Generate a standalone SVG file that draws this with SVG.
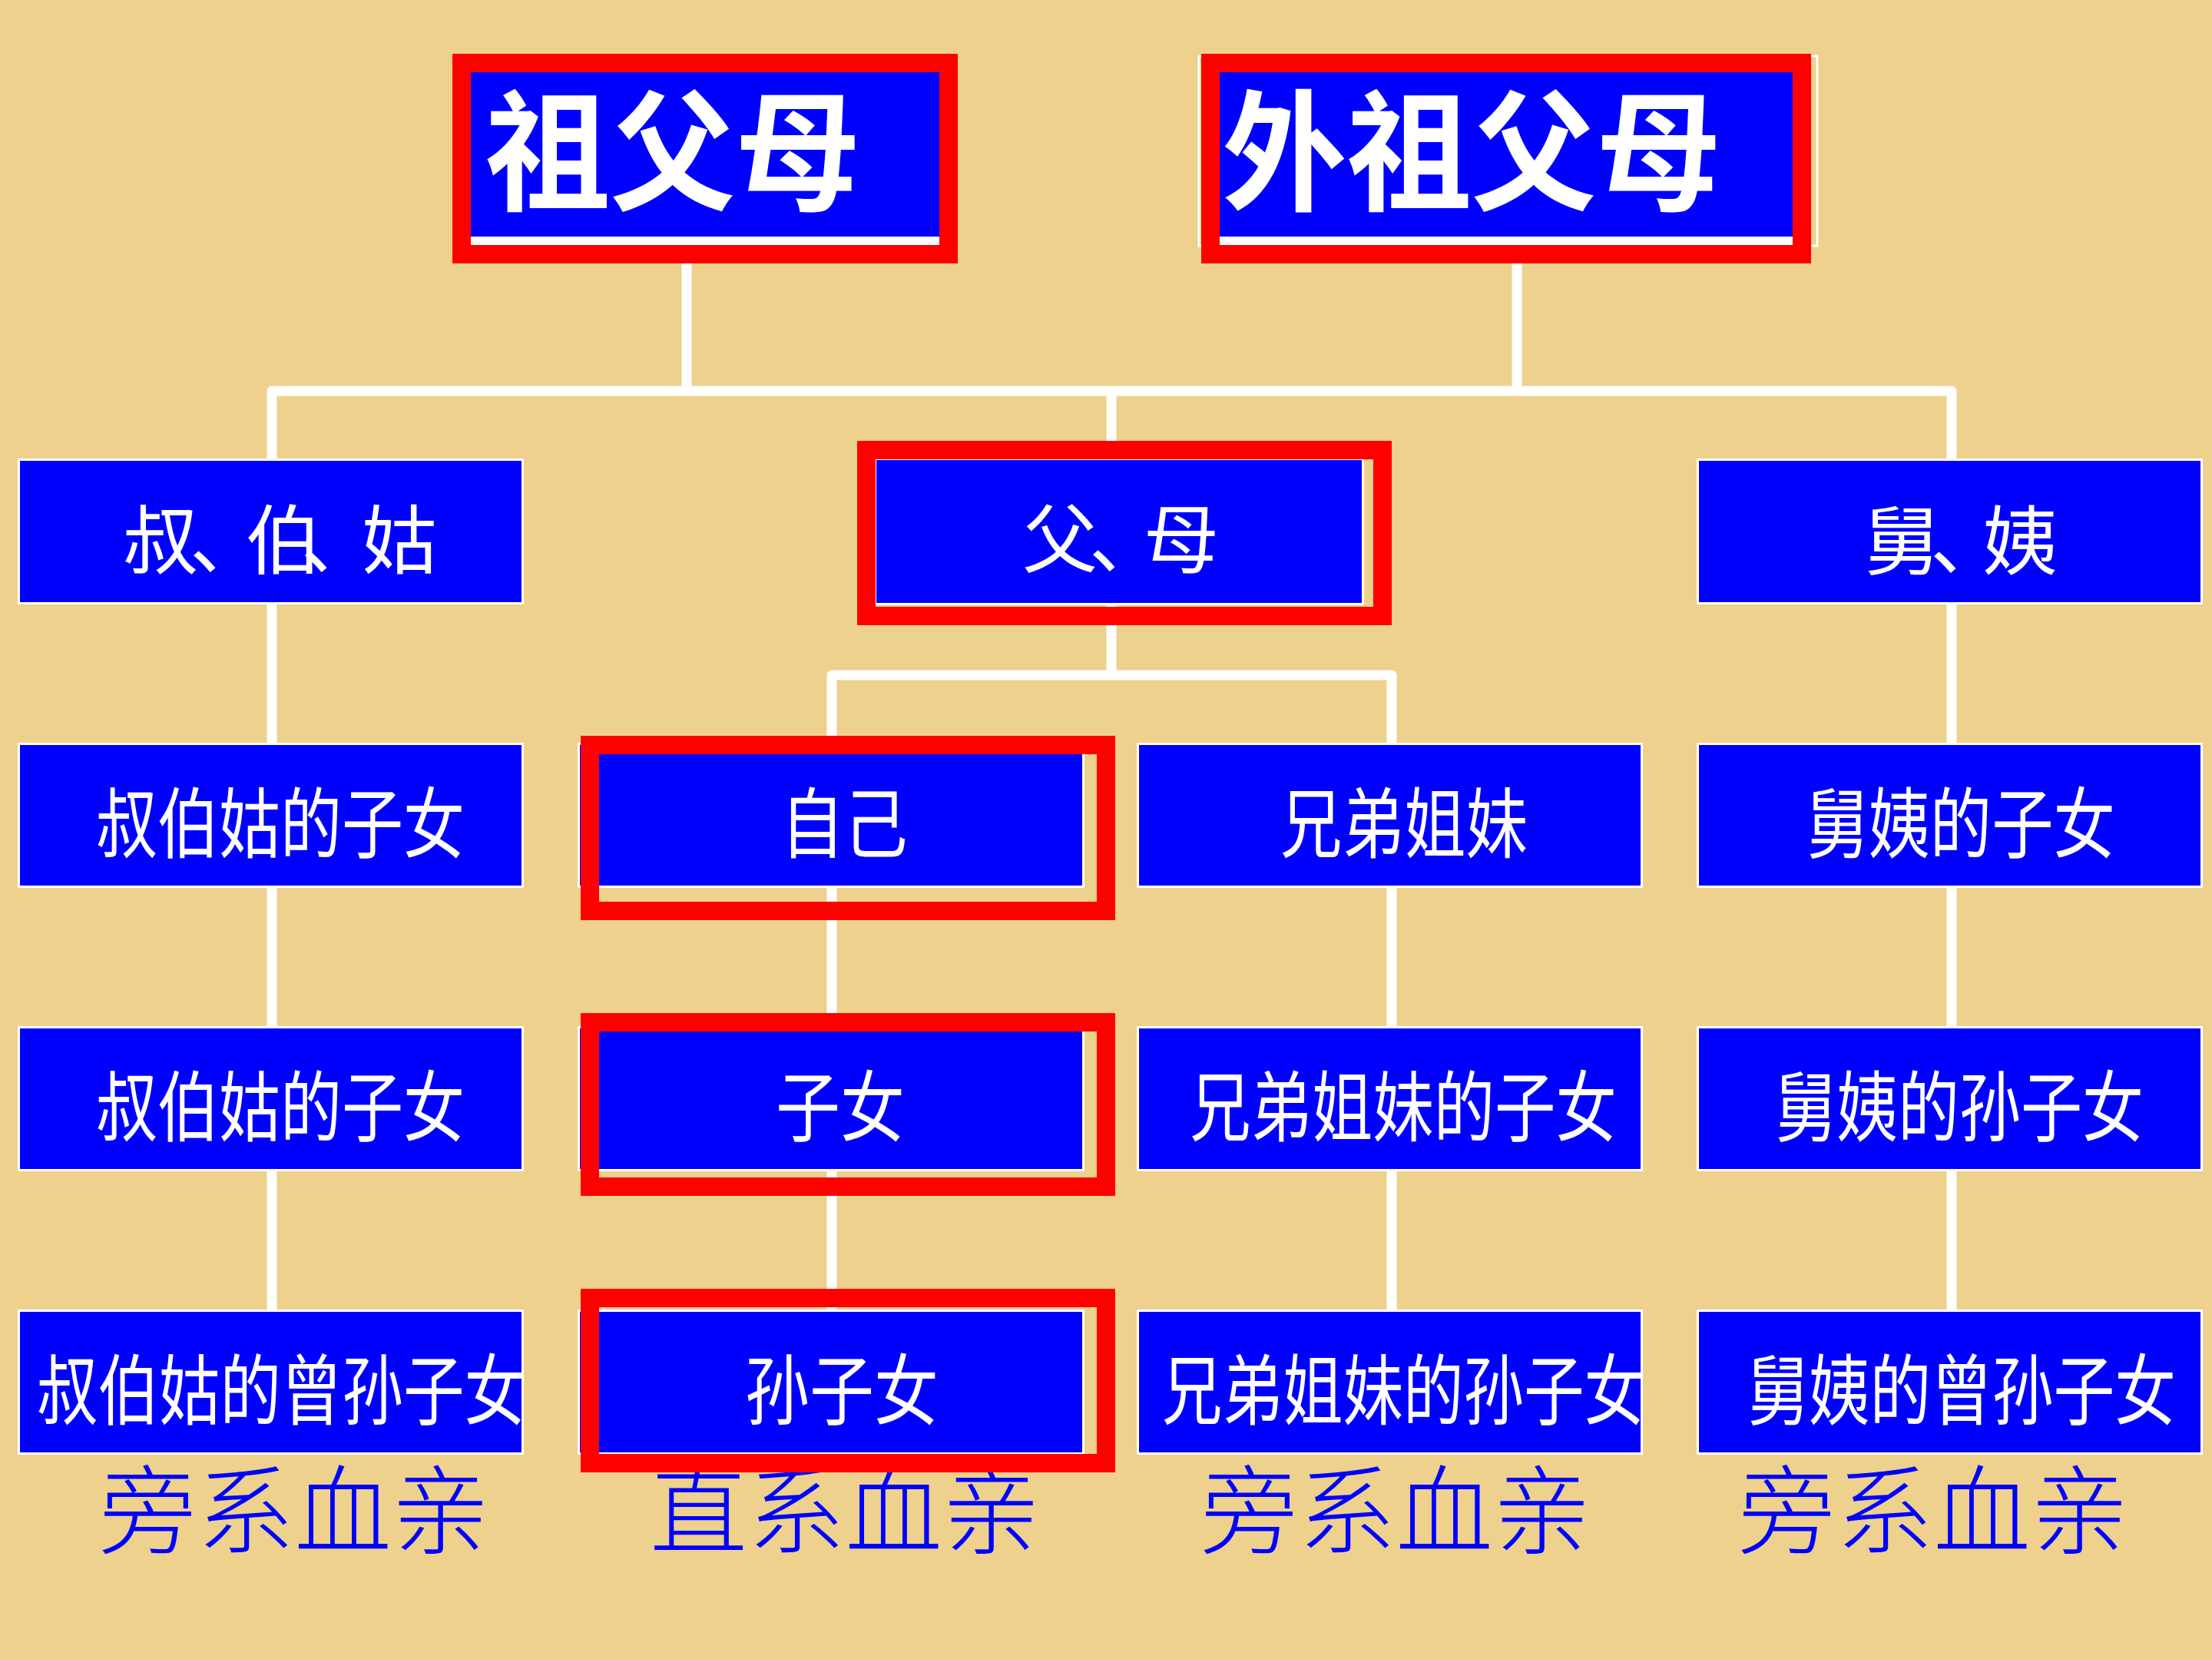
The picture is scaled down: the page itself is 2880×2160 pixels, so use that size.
<svg xmlns="http://www.w3.org/2000/svg" width="2880" height="2160" viewBox="0 0 2880 2160">
<style>
.bg{fill:#EDD18D}
.box{fill:#0000FF;stroke:#FFFFFF;stroke-width:3}
.fill{fill:#0000FF}
.hl{fill:none;stroke:#FF0000;stroke-width:24}
.conn{fill:none;stroke:#FFFFFF;stroke-width:13;stroke-linejoin:round}
.t{font-family:"Noto Sans CJK SC","Noto Sans CJK TC",sans-serif;fill:#FFFFFF;font-size:100px;text-anchor:middle}
.r1{font-size:98px;text-anchor:start}
.big{font-size:170px;font-weight:700}
.lab{font-family:"Noto Sans CJK SC","Noto Sans CJK TC",sans-serif;fill:#0000FF;font-size:127px;text-anchor:middle;font-weight:300}
</style>
<rect class="bg" x="0" y="0" width="2880" height="2160"/>
<g id="connectors">
<path class="conn" d="M894 300 V509"/>
<path class="conn" d="M1975 300 V509"/>
<path class="conn" d="M354 1705 V509 H2541 V1705"/>
<path class="conn" d="M1447 509 V879"/>
<path class="conn" d="M1083 1705 V879 H1812 V1705"/>
</g>
<g id="labels">
<text class="lab" x="383" y="2014">旁系血亲</text>
<text class="lab" x="1100" y="2014">直系血亲</text>
<text class="lab" x="1817" y="2014">旁系血亲</text>
<text class="lab" x="2517" y="2014">旁系血亲</text>
</g>
<g id="node-zufumu">
<rect class="fill" x="610" y="90" width="616" height="229"/>
<rect x="610" y="308" width="616" height="11" fill="#FFFFFF"/>
<rect class="hl" x="601" y="82" width="634" height="249"/>
<text class="t big" transform="translate(876 261) scale(0.957 1)" x="0" y="0">祖父母</text>
</g>
<g id="node-waizufumu">
<rect x="1561" y="73" width="805" height="247" fill="none" stroke="#FFFFFF" stroke-width="3"/>
<rect class="fill" x="1585" y="90" width="752" height="229"/>
<rect x="1585" y="308" width="752" height="11" fill="#FFFFFF"/>
<rect class="hl" x="1576" y="82" width="770" height="249"/>
<text class="t big" transform="translate(1916 261) scale(0.955 1)" x="0" y="0">外祖父母</text>
</g>
<g id="node-shubogu">
<rect class="box" x="24.5" y="598.5" width="656" height="187"/>
<text class="t r1" x="160 247 320 392 471" y="739">叔、伯、姑</text>
</g>
<g id="node-fumu">
<rect class="box" x="1139.5" y="597.5" width="635" height="189"/>
<rect class="hl" x="1128" y="586" width="672" height="216"/>
<text class="t r1" x="1331 1418 1489" y="738">父、母</text>
</g>
<g id="node-jiuyi">
<rect class="box" x="2210.5" y="598.5" width="656" height="187"/>
<text class="t r1" x="2427 2513 2581" y="740">舅、姨</text>
</g>
<g id="node-shubogu-zinv">
<rect class="box" x="24.5" y="968.5" width="656" height="186"/>
<text class="t" transform="translate(365 1109) scale(0.8 1)" x="0" y="0">叔伯姑的子女</text>
</g>
<g id="node-ziji">
<rect class="box" x="753.5" y="968.5" width="657" height="186"/>
<rect class="hl" x="768" y="970" width="672" height="216"/>
<text class="t" transform="translate(1099 1109) scale(0.825 1)" x="0" y="0">自己</text>
</g>
<g id="node-xiongdi">
<rect class="box" x="1481.5" y="968.5" width="656" height="186"/>
<text class="t" transform="translate(1828 1109) scale(0.805 1)" x="0" y="0">兄弟姐妹</text>
</g>
<g id="node-jiuyi-zinv">
<rect class="box" x="2210.5" y="968.5" width="656" height="186"/>
<text class="t" transform="translate(2553 1109) scale(0.804 1)" x="0" y="0">舅姨的子女</text>
</g>
<g id="node-shubogu-zinv2">
<rect class="box" x="24.5" y="1337.5" width="656" height="186"/>
<text class="t" transform="translate(365 1478) scale(0.8 1)" x="0" y="0">叔伯姑的子女</text>
</g>
<g id="node-zinv">
<rect class="box" x="753.5" y="1337.5" width="657" height="186"/>
<rect class="hl" x="768" y="1331" width="672" height="214"/>
<text class="t" transform="translate(1094 1478) scale(0.84 1)" x="0" y="0">子女</text>
</g>
<g id="node-xiongdi-zinv">
<rect class="box" x="1481.5" y="1337.5" width="656" height="186"/>
<text class="t" transform="translate(1827 1478) scale(0.794 1)" x="0" y="0">兄弟姐妹的子女</text>
</g>
<g id="node-jiuyi-sunzinv">
<rect class="box" x="2210.5" y="1337.5" width="656" height="186"/>
<text class="t" transform="translate(2551 1478) scale(0.8 1)" x="0" y="0">舅姨的孙子女</text>
</g>
<g id="node-shubogu-zengsun">
<rect class="box" x="24.5" y="1706.5" width="656" height="186"/>
<text class="t" transform="translate(366 1847) scale(0.795 1)" x="0" y="0">叔伯姑的曾孙子女</text>
</g>
<g id="node-sunzinv">
<rect class="box" x="753.5" y="1706.5" width="657" height="186"/>
<rect class="hl" x="768" y="1690" width="672" height="215"/>
<text class="t" transform="translate(1096 1847) scale(0.84 1)" x="0" y="0">孙子女</text>
</g>
<g id="node-xiongdi-sunzinv">
<rect class="box" x="1481.5" y="1706.5" width="656" height="186"/>
<text class="t" transform="translate(1827 1847) scale(0.785 1)" x="0" y="0">兄弟姐妹的孙子女</text>
</g>
<g id="node-jiuyi-zengsun">
<rect class="box" x="2210.5" y="1706.5" width="656" height="186"/>
<text class="t" transform="translate(2554 1847) scale(0.797 1)" x="0" y="0">舅姨的曾孙子女</text>
</g>
</svg>
